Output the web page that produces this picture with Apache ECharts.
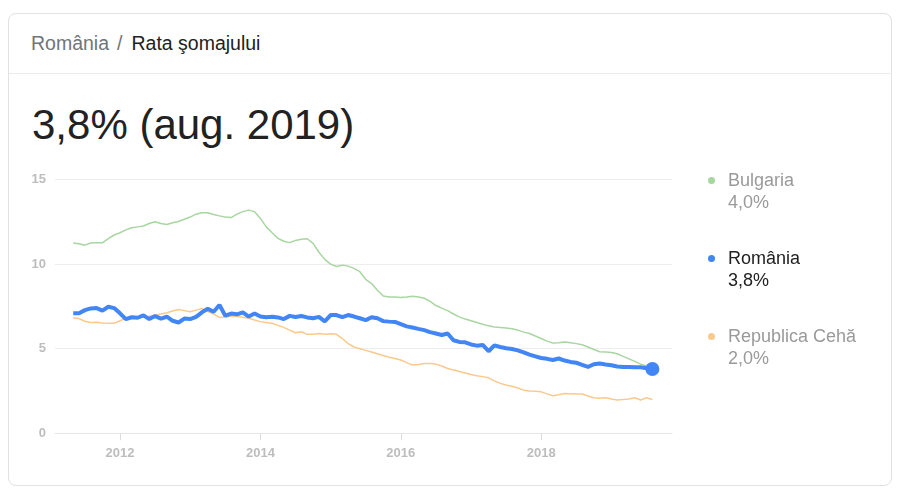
<!DOCTYPE html>
<html>
<head>
<meta charset="utf-8">
<title>Rata șomajului</title>
<script src="https://cdn.jsdelivr.net/npm/echarts@6/dist/echarts.min.js"></script>
<style>
  html, body { margin: 0; padding: 0; background: #fff; }
  body { width: 897px; height: 488px; position: relative; overflow: hidden; font-family: "Liberation Sans", Arial, sans-serif; }
  .card { position: absolute; left: 8px; top: 13px; width: 884px; height: 473px; border: 1px solid #dfe1e5; border-radius: 8px; box-sizing: border-box; }
  .sep { position: absolute; left: 9px; right: 5px; top: 73px; height: 1px; background: #ebebeb; }
  .crumb { position: absolute; left: 31px; top: 32px; font-size: 19.5px; line-height: 22px; color: #222; white-space: nowrap; }
  .crumb .light { color: #70757a; }
  .crumb .slash { color: #70757a; margin: 0 9px 0 8px; }
  .big { position: absolute; left: 32px; top: 101px; font-size: 42px; line-height: 48px; color: #222; white-space: nowrap; }
  #chart { position: absolute; left: 0; top: 0; width: 897px; height: 488px; }
  .leg { position: absolute; left: 728px; font-size: 18px; line-height: 22px; color: #9a9a9a; white-space: nowrap; }
  .leg .dot { position: absolute; left: -20px; top: 8px; width: 7px; height: 7px; border-radius: 50%; }
</style>
</head>
<body>
<div class="card"></div>
<div class="sep"></div>
<div class="crumb"><span class="light">România</span><span class="slash">/</span>Rata şomajului</div>
<div class="big">3,8% (aug. 2019)</div>
<div id="chart"></div>
<div id="legend"></div>
<script type="text/javascript">
// lunar, mai 2011 - aug. 2019
var startYear = 2011, startMonth = 5;

var bulgaria = [
  11.25, 11.2, 11.12, 11.25, 11.26, 11.26, 11.5, 11.72, 11.85, 12.02,
  12.15, 12.2, 12.25, 12.4, 12.5, 12.4, 12.34, 12.44, 12.52, 12.65,
  12.78, 12.95, 13.03, 13.03, 12.93, 12.85, 12.78, 12.75, 12.95, 13.1,
  13.19, 13.1, 12.7, 12.2, 11.85, 11.52, 11.35, 11.27, 11.4, 11.47,
  11.5, 11.22, 10.7, 10.28, 10.0, 9.86, 9.94, 9.88, 9.75, 9.55,
  9.1, 8.85, 8.45, 8.11, 8.05, 8.05, 8.03, 8.06, 8.1, 8.05,
  7.98, 7.8, 7.55, 7.4, 7.25, 7.05, 6.88, 6.75, 6.65, 6.55,
  6.45, 6.35, 6.28, 6.25, 6.22, 6.18, 6.1, 5.98, 5.9, 5.75,
  5.6, 5.45, 5.33, 5.35, 5.4, 5.35, 5.3, 5.23, 5.1, 4.95,
  4.82, 4.8, 4.78, 4.7, 4.55, 4.4, 4.25, 4.09, 3.98, 4.0
];

var romania = [
  7.1, 7.1, 7.28, 7.38, 7.4, 7.25, 7.48, 7.4, 7.09, 6.75,
  6.86, 6.83, 6.97, 6.75, 6.93, 6.78, 6.89, 6.65, 6.55, 6.78,
  6.75, 6.88, 7.15, 7.36, 7.18, 7.58, 6.95, 7.08, 7.03, 7.15,
  6.9, 7.08, 6.9, 6.86, 6.89, 6.85, 6.75, 6.94, 6.87, 6.93,
  6.85, 6.8, 6.88, 6.62, 6.99, 6.99, 6.86, 6.99, 6.9, 6.8,
  6.69, 6.86, 6.8, 6.63, 6.6, 6.58, 6.45, 6.32, 6.25, 6.17,
  6.1, 5.98, 5.9, 5.81, 5.9, 5.5, 5.4, 5.38, 5.25, 5.18,
  5.22, 4.85, 5.2, 5.1, 5.03, 4.98, 4.9, 4.78, 4.65, 4.55,
  4.45, 4.4, 4.33, 4.42, 4.3, 4.22, 4.17, 4.05, 3.93, 4.08,
  4.13, 4.07, 4.02, 3.95, 3.92, 3.92, 3.9, 3.9, 3.85, 3.8
];

var cehia = [
  6.83, 6.78, 6.62, 6.55, 6.57, 6.52, 6.5, 6.5, 6.65, 6.8,
  6.9, 6.89, 6.89, 6.92, 6.98, 7.05, 7.13, 7.23, 7.32, 7.25,
  7.18, 7.28, 7.37, 7.2, 7.05, 6.85, 6.88, 6.92, 6.9, 6.86,
  6.8, 6.7, 6.6, 6.55, 6.5, 6.38, 6.26, 6.1, 5.94, 6.0,
  5.85, 5.85, 5.9, 5.86, 5.88, 5.85, 5.6, 5.3, 5.1, 5.0,
  4.9, 4.8, 4.7, 4.6, 4.5, 4.42, 4.33, 4.18, 4.03, 4.07,
  4.12, 4.12, 4.09, 3.98, 3.83, 3.74, 3.65, 3.56, 3.47, 3.4,
  3.35, 3.28, 3.1, 2.95, 2.85, 2.78, 2.68, 2.55, 2.5, 2.48,
  2.45, 2.33, 2.22, 2.28, 2.35, 2.34, 2.33, 2.32, 2.2, 2.1,
  2.07, 2.1, 2.03, 1.97, 2.0, 2.03, 2.1, 1.97, 2.1, 2.0
];

var names = ['Bulgaria', 'România', 'Republica Cehă'];
var labels = ['4,0%', '3,8%', '2,0%'];
var xTicks = [2012, 2014, 2016, 2018];

var colors = { bg: '#a8d6a1', ro: '#4285f4', cz: '#fbc98c' };

// x = an zecimal
function toPoints(arr) {
  var out = [];
  for (var i = 0; i < arr.length; i++) {
    out.push([startYear + (startMonth - 1 + i) / 12, arr[i]]);
  }
  return out;
}

var ptsBg = toPoints(bulgaria);
var ptsRo = toPoints(romania);
var ptsCz = toPoints(cehia);

var myChart = echarts.init(document.getElementById('chart'));
var option = {
  animation: false,
  grid: { left: 55, right: 225, top: 179.5, bottom: 54.7 },
  xAxis: {
    type: 'value',
    min: 2011.074,
    max: 2019.863,
    axisLine: { show: true, lineStyle: { color: '#e6e6e6', width: 1 } },
    axisTick: { show: true, customValues: xTicks, length: 7, lineStyle: { color: '#dcdcdc' } },
    axisLabel: {
      customValues: xTicks,
      margin: 14,
      color: '#bdbdbd',
      fontSize: 13,
      fontWeight: 'bold',
      fontFamily: 'Liberation Sans',
      formatter: function (v) { return String(Math.round(v)); }
    },
    splitLine: { show: false }
  },
  yAxis: {
    type: 'value',
    min: 0,
    max: 15,
    interval: 5,
    axisLine: { show: false },
    axisTick: { show: false },
    axisLabel: { margin: 9, color: '#bdbdbd', fontSize: 13, fontWeight: 'bold', fontFamily: 'Liberation Sans' },
    splitLine: { lineStyle: { color: '#ededed', width: 1 } }
  },
  series: [
    {
      name: names[0], type: 'line', data: ptsBg, showSymbol: false,
      lineStyle: { color: colors.bg, width: 1.5 }, z: 2
    },
    {
      name: names[2], type: 'line', data: ptsCz, showSymbol: false,
      lineStyle: { color: colors.cz, width: 1.5 }, z: 2
    },
    {
      name: names[1], type: 'line', data: ptsRo, showSymbol: false,
      lineStyle: { color: colors.ro, width: 4 }, z: 3
    },
    {
      name: names[1], type: 'scatter', data: [ptsRo[ptsRo.length - 1]],
      symbolSize: 14, itemStyle: { color: colors.ro, opacity: 1 }, z: 4
    }
  ]
};
myChart.setOption(option);

// legenda
var legColors = [colors.bg, colors.ro, colors.cz];
var legTop = [169, 247, 325];
var html = '';
for (var i = 0; i < names.length; i++) {
  var txt = i == 1 ? 'color:#222;' : '';
  html += '<div class="leg" style="top:' + legTop[i] + 'px;' + txt + '">' +
    '<span class="dot" style="background:' + legColors[i] + '"></span>' +
    names[i] + '<br>' + labels[i] + '</div>';
}
document.getElementById('legend').innerHTML = html;
</script>
</body>
</html>
